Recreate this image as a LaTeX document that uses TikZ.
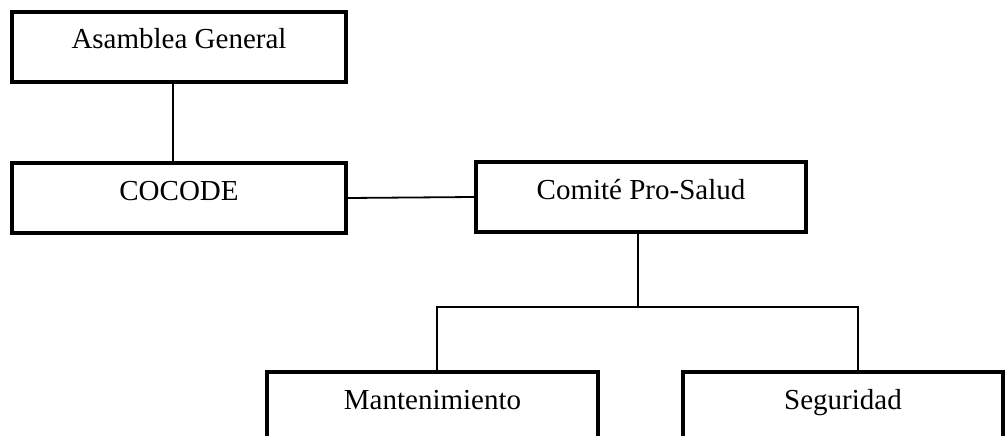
\documentclass[tikz,border=0pt]{standalone}
\usepackage{fontspec}
\setmainfont{Liberation Serif}
\begin{document}
\begin{tikzpicture}[x=1pt,y=-1pt,
  box/.style={draw=black,line width=4pt,rectangle,minimum height=70pt,
    inner sep=0pt,text height=0.7em,text depth=0.3em,
    font=\fontsize{29}{34}\selectfont},
  conn/.style={draw=black,line width=1.8pt}]
\useasboundingbox (0,0) rectangle (1005,436);
\node[box,minimum width=334pt] (asam) at (179,47) {Asamblea General};
\node[box,minimum width=334pt] (coco) at (179,198) {COCODE};
\node[box,minimum width=330pt] (comi) at (641,197) {Comité Pro-Salud};
\node[box,minimum width=331pt] (mant) at (432.5,407) {Mantenimiento};
\node[box,minimum width=320pt] (segu) at (843,407) {Seguridad};
\coordinate (ja) at (173,100);
\coordinate (jc) at (638,307);
\coordinate (jl) at (437,307);
\coordinate (jr) at (858,307);
\draw[conn] (asam.south -| ja) -- (coco.north -| ja);
\draw[conn] (coco.east) -- (comi.west);
\draw[conn] (comi.south -| jc) -- (jc);
\draw[conn] (mant.north -| jl) -- (jl) -- (jr) -- (segu.north -| jr);
\end{tikzpicture}
\end{document}
